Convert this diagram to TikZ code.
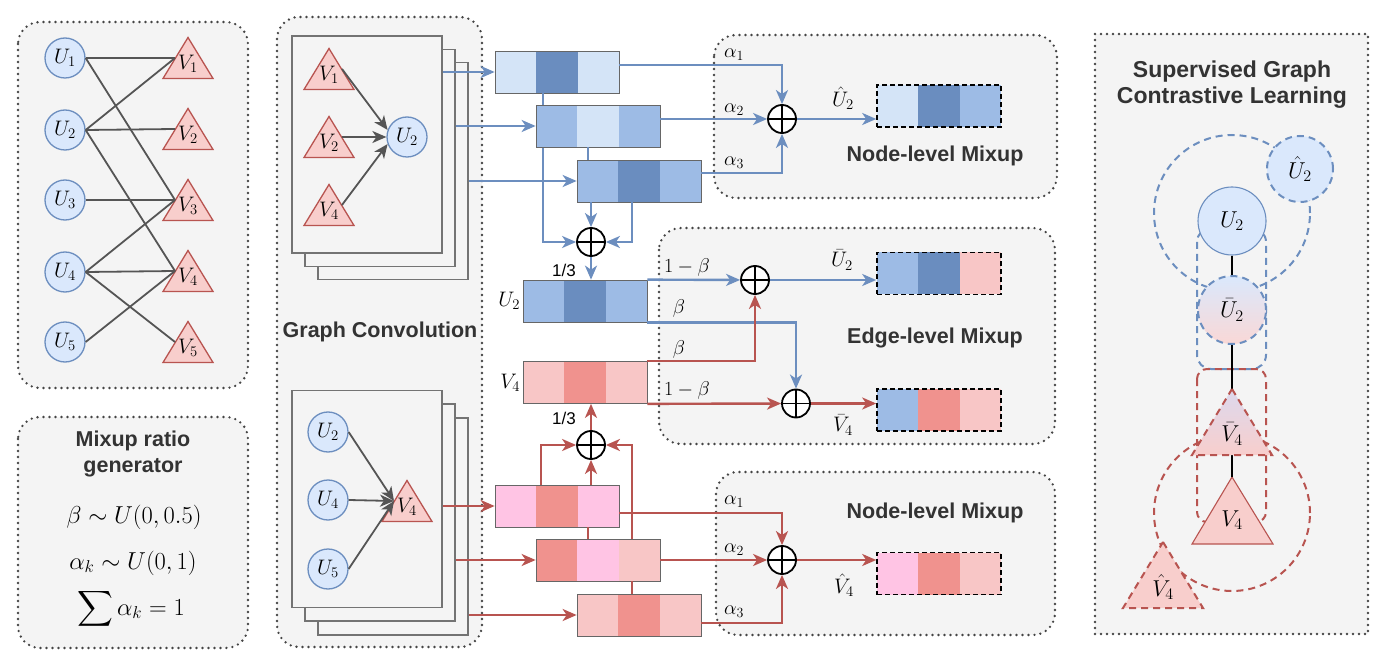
\RequirePackage{fix-cm}
\documentclass[tikz,border=0pt]{standalone}
\usepackage{amsmath}
\usepackage{fontspec}
\setsansfont{Liberation Sans}
\usepackage{tikz}
\usetikzlibrary{positioning,calc,arrows.meta}

\definecolor{bline}{HTML}{6C8EBF}
\definecolor{rline}{HTML}{B85450}
\definecolor{blight}{HTML}{D4E4F7}
\definecolor{bmid}{HTML}{9DBBE5}
\definecolor{bdark}{HTML}{6A8DBF}
\definecolor{rlight}{HTML}{F8C6C6}
\definecolor{rmid}{HTML}{F0928E}
\definecolor{rpink}{HTML}{FFC4E4}
\definecolor{ufill}{HTML}{DAE8FC}
\definecolor{vfill}{HTML}{F8CECC}
\definecolor{vmix}{HTML}{DCD9EE}
\definecolor{panelbg}{HTML}{F4F4F4}
\definecolor{dotgray}{HTML}{444444}
\definecolor{edgegray}{HTML}{555555}
\definecolor{textgray}{HTML}{333333}

\newcommand{\lblfont}{\fontsize{21}{25}\selectfont}
\newcommand{\bigfont}{\fontsize{23}{27}\selectfont}
\newcommand{\wfont}{\fontsize{20}{24}\selectfont}
\newcommand{\fmfont}{\fontsize{24.5}{29}\selectfont}
\newcommand{\ttlfont}{\fontsize{21.5}{26}\selectfont\sffamily\bfseries}
\newcommand{\scltfont}{\fontsize{23}{26}\selectfont\sffamily\bfseries}
\newcommand{\thirdfont}{\fontsize{17}{20}\selectfont\sffamily}

% triangle node: style, name, centre of box, label
\newcommand{\trinode}[4]{%
  \draw[#1] ($#3+(-25,20.5)$) -- ($#3+(25,20.5)$) -- ($#3+(0,-20.5)$) -- cycle;
  \coordinate (#2-in) at ($#3+(-13,0)$);
  \coordinate (#2-out) at ($#3+(13,0)$);
  \node[lbl] (#2) at ($#3+(0,6)$) {#4};}

\begin{document}
\begin{tikzpicture}[x=1pt, y=-1pt,
        panel/.style={draw=dotgray, fill=panelbg, line width=2.6pt, dash pattern=on 0pt off 6pt, line cap=round, rounded corners=22pt},
        layer/.style={draw=black!55, fill=panelbg, line width=1.3pt, minimum width=150, minimum height=217, inner sep=0},
        unode/.style={circle, draw=bline, fill=ufill, line width=1.3pt, minimum size=40, inner sep=0, font=\lblfont},
        vtri/.style={draw=rline, fill=vfill, line width=1.3pt},
        lbl/.style={inner sep=0.5pt, font=\lblfont},
        wlbl/.style={inner sep=0.5pt, font=\wfont},
        third/.style={inner sep=0.5pt, font=\thirdfont},
        formula/.style={inner sep=0pt, font=\fmfont},
        ttl/.style={inner sep=1pt, font=\ttlfont, text=textgray, align=center},
        edge/.style={draw=edgegray, line width=1.8pt},
        garrow/.style={edge, -{Stealth[length=14pt,width=12pt,inset=4pt]}},
        bwire/.style={draw=bline, line width=2.4pt},
        rwire/.style={draw=rline, line width=2.4pt},
        barrow/.style={bwire, -{Stealth[length=14pt,width=12pt,inset=4pt]}},
        rarrow/.style={rwire, -{Stealth[length=14pt,width=12pt,inset=4pt]}},
        bdash/.style={draw=bline, line width=2pt, dash pattern=on 7pt off 5pt},
        rdash/.style={draw=rline, line width=2pt, dash pattern=on 7pt off 5pt},
        sum/.style={circle, draw=black, fill=white, line width=1.8pt, minimum size=28, inner sep=0,
            path picture={\draw[line width=1.5pt] (path picture bounding box.north) -- (path picture bounding box.south)
                (path picture bounding box.west) -- (path picture bounding box.east);}},
        emb/.style n args={3}{draw=black!60, line width=0.7pt, minimum width=124, minimum height=42, inner sep=0,
            path picture={
                \fill[#1] (path picture bounding box.north west) rectangle ($(path picture bounding box.south west)!1/3!(path picture bounding box.south east)$);
                \fill[#2] ($(path picture bounding box.north west)!1/3!(path picture bounding box.north east)$) rectangle ($(path picture bounding box.south west)!2/3!(path picture bounding box.south east)$);
                \fill[#3] ($(path picture bounding box.north west)!2/3!(path picture bounding box.north east)$) rectangle (path picture bounding box.south east);}},
        res/.style n args={3}{emb={#1}{#2}{#3}, draw=black, line width=1.6pt, dash pattern=on 5pt off 3pt}]

    \useasboundingbox (0,0) rectangle (1400,668);

    % panels
    \draw[panel] (18,22) rectangle (248,388);
    \draw[panel] (18,417) rectangle (248,648);
    \draw[panel] (277,17) rectangle (482,647);
    \draw[panel] (714,35) rectangle (1057,198);
    \draw[panel] (659,228) rectangle (1055,444);
    \draw[panel] (716,472) rectangle (1055,635);
    \draw[panel, sharp corners] (1095,34) rectangle (1368,634);

    % bipartite graph
    \node[unode] (u1) at (65,58) {$U_1$};
    \node[unode] (u2) at (65,130) {$U_2$};
    \node[unode] (u3) at (65,200) {$U_3$};
    \node[unode] (u4) at (65,272) {$U_4$};
    \node[unode] (u5) at (65,342) {$U_5$};
    \trinode{vtri}{v1}{(188,58)}{$V_1$}
    \trinode{vtri}{v2}{(188,129)}{$V_2$}
    \trinode{vtri}{v3}{(188,200)}{$V_3$}
    \trinode{vtri}{v4}{(188,271)}{$V_4$}
    \trinode{vtri}{v5}{(188,342)}{$V_5$}
    \draw[edge] (u1.east) -- (v1-in);
    \draw[edge] (u1.east) -- (v3-in);
    \draw[edge] (u2.east) -- (v1-in);
    \draw[edge] (u2.east) -- (v2-in);
    \draw[edge] (u2.east) -- (v4-in);
    \draw[edge] (u3.east) -- (v3-in);
    \draw[edge] (u4.east) -- (v3-in);
    \draw[edge] (u4.east) -- (v4-in);
    \draw[edge] (u4.east) -- (v5-in);
    \draw[edge] (u5.east) -- (v4-in);

    % mixup ratio generator
    \node[ttl] at (133,454) {Mixup ratio\\generator};
    \node[formula] at (134,517) {$\beta\sim U(0,0.5)$};
    \node[formula] at (133,563) {$\alpha_k\sim U(0,1)$};
    \node[formula] at (131,609) {$\displaystyle\sum\alpha_k=1$};

    % graph convolution, user side
    \node[layer] (t3) at (393,171) {};
    \node[layer] (t2) at (380,158) {};
    \node[layer] (t1) at (367,144.5) {};
    \trinode{vtri}{cv1}{(329,69)}{$V_1$}
    \trinode{vtri}{cv2}{(329,137)}{$V_2$}
    \trinode{vtri}{cv4}{(329,205)}{$V_4$}
    \node[unode] (cu2) at (407,137) {$U_2$};
    \draw[garrow] (cv1-out) -- (cu2.160);
    \draw[garrow] (cv2-out) -- (cu2.west);
    \draw[garrow] (cv4-out) -- (cu2.200);

    % graph convolution, item side
    \node[layer] (l3) at (393,526.5) {};
    \node[layer] (l2) at (380,512.5) {};
    \node[layer] (l1) at (367,499) {};
    \node[unode] (du2) at (328,432) {$U_2$};
    \node[unode] (du4) at (328,500) {$U_4$};
    \node[unode] (du5) at (328,569) {$U_5$};
    \trinode{vtri}{dv4}{(407,501)}{$V_4$}
    \draw[garrow] (du2.east) -- (dv4-in);
    \draw[garrow] (du4.east) -- (dv4-in);
    \draw[garrow] (du5.east) -- (dv4-in);

    \node[ttl] at (380,332) {Graph Convolution};

    % user embeddings
    \node[emb={blight}{bdark}{blight}] (b1) at (557,72) {};
    \node[sum] (sa) at (591,242) {};
    \draw[barrow] ([xshift=-14pt]b1.south) |- (sa);
    \node[emb={bmid}{blight}{bmid}] (b2) at (598,126) {};
    \node[emb={bmid}{bdark}{bmid}] (b3) at (639,181) {};
    \draw[barrow] (t1.east |- b1) -- (b1);
    \draw[barrow] (t2.east |- b2) -- (b2);
    \draw[barrow] (t3.east |- b3) -- (b3);
    \draw[bwire] ([xshift=-10pt]b2.south) -- ([xshift=-10pt]b2.south |- b3.north);
    \draw[barrow] (b3.south -| sa) -- (sa);
    \draw[barrow] ([xshift=-7pt]b3.south) |- (sa);
    \node[emb={bmid}{bdark}{bmid}] (bu) at (585,301) {};
    \draw[barrow] (sa) -- (sa |- bu.north);
    \node[third] at (564,270) {1/3};
    \node[lbl, left=2pt of bu] {$U_2$};

    % node-level mixup, users
    \node[sum] (sb) at (782,119) {};
    \node[res={blight}{bdark}{bmid}] (hu) at (939,106) {};
    \draw[barrow] ([yshift=7pt]b1.east) -| (sb);
    \draw[barrow] (b2.east |- sb) -- (sb);
    \draw[barrow] ([yshift=8pt]b3.east) -| (sb);
    \draw[barrow] (sb) -- (sb -| hu.west);
    \node[wlbl] at (734,55) {$\alpha_1$};
    \node[wlbl] at (734,110) {$\alpha_2$};
    \node[wlbl] at (734,163) {$\alpha_3$};
    \node[lbl] at (843,98) {$\hat{U}_2$};
    \node[ttl] at (935,156) {Node-level Mixup};

    % item embeddings
    \node[emb={rlight}{rmid}{rlight}] (bv) at (585,382.5) {};
    \node[emb={rpink}{rmid}{rpink}] (r1) at (557,506) {};
    \node[emb={rmid}{rpink}{rlight}] (r2) at (598,560) {};
    \node[emb={rlight}{rmid}{rlight}] (r3) at (639,615) {};
    \node[sum] (sc) at (591,445) {};
    \draw[rarrow] (l1.east |- r1) -- (r1);
    \draw[rarrow] (l2.east |- r2) -- (r2);
    \draw[rarrow] (l3.east |- r3) -- (r3);
    \draw[rarrow] ([xshift=-16pt]r1.north) |- (sc);
    \draw[rarrow] (r1.north -| sc) -- (sc);
    \draw[rarrow] ([xshift=34pt]r2.north) |- (sc);
    \draw[rwire] ([xshift=-10pt]r2.north) -- ([xshift=-10pt]r2.north |- r1.south);
    \draw[rwire] ([xshift=-7pt]r3.north) -- ([xshift=-7pt]r3.north |- r2.south);
    \draw[rarrow] (sc) -- (sc |- bv.south);
    \node[third] at (564,418) {1/3};
    \node[lbl, left=2pt of bv] {$V_4$};

    % edge-level mixup
    \node[sum] (se1) at (755,280) {};
    \node[sum] (se2) at (796,403.5) {};
    \node[res={bmid}{bdark}{rlight}] (bu2) at (939,273.5) {};
    \node[res={bmid}{rmid}{rlight}] (bv2) at (939,410) {};
    \draw[barrow] (bu.north east) -- (se1);
    \draw[barrow] (bu.south east) -| (se2);
    \draw[rarrow] (bv.north east) -| (se1);
    \draw[rarrow] (bv.south east) -- (se2);
    \draw[barrow] (se1) -- (se1 -| bu2.west);
    \draw[rarrow] (se2) -- (se2 -| bv2.west);
    \node[wlbl] at (687,268) {$1-\beta$};
    \node[wlbl] at (679,308) {$\beta$};
    \node[wlbl] at (679,349) {$\beta$};
    \node[wlbl] at (687,390) {$1-\beta$};
    \node[lbl] at (842,260) {$\bar{U}_2$};
    \node[lbl] at (843,425) {$\bar{V}_4$};
    \node[ttl] at (935,338) {Edge-level Mixup};

    % node-level mixup, items
    \node[sum] (sd) at (782,560) {};
    \node[res={rpink}{rmid}{rlight}] (hv) at (939,573.5) {};
    \draw[rarrow] ([yshift=-7pt]r1.east) -| (sd);
    \draw[rarrow] (r2.east) -- (sd);
    \draw[rarrow] ([yshift=-8pt]r3.east) -| (sd);
    \draw[rarrow] (sd) -- (sd -| hv.west);
    \node[wlbl] at (734,502) {$\alpha_1$};
    \node[wlbl] at (734,550) {$\alpha_2$};
    \node[wlbl] at (734,612) {$\alpha_3$};
    \node[lbl] at (844,585) {$\hat{V}_4$};
    \node[ttl] at (935,513) {Node-level Mixup};

    % supervised graph contrastive learning
    \node[ttl, font=\scltfont] at (1232,85) {Supervised Graph\\Contrastive Learning};
    \draw[bdash] (1232,213) circle[radius=78pt];
    \draw[bdash, rounded corners=14pt] (1197,228) rectangle (1266,369);
    \draw[rdash, rounded corners=10pt] (1197,369) rectangle (1266,522);
    \draw[rdash] (1232,513) circle[radius=78pt];
    \node[circle, draw=bline, fill=ufill, line width=1.1pt, minimum size=68, inner sep=0, font=\bigfont] (su2) at (1232,221) {$U_2$};
    \draw[vtri, line width=1.1pt] (1232,477) -- (1273,544) -- (1192,544) -- cycle;
    \coordinate (sv4-top) at (1232,477);
    \node[lbl, font=\bigfont] (sv4) at (1232,520) {$V_4$};
    \draw[line width=2pt] (su2) -- (sv4-top);
    \node[circle, bdash, top color=ufill, bottom color=vfill!80, minimum size=68, inner sep=0, font=\bigfont] (sbu2) at (1232,310) {$\bar{U}_2$};
    \draw[rdash, top color=vmix, bottom color=vfill] (1232,389) -- (1272,455) -- (1192,455) -- cycle;
    \node[lbl, font=\bigfont] (sbv4) at (1232,434) {$\bar{V}_4$};
    \node[circle, bdash, fill=ufill, minimum size=66, inner sep=0, font=\bigfont] (shu2) at (1300,169) {$\hat{U}_2$};
    \draw[rdash, fill=vfill] (1163,542) -- (1203,608) -- (1123,608) -- cycle;
    \node[lbl, font=\bigfont] (shv4) at (1163,587) {$\hat{V}_4$};

\end{tikzpicture}
\end{document}
